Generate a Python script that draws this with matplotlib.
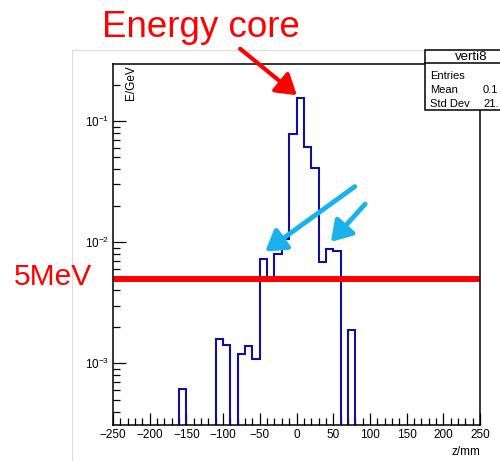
import numpy as np
import matplotlib
matplotlib.use("Agg")
import matplotlib.pyplot as plt
from matplotlib.lines import Line2D
from matplotlib.patches import Rectangle, FancyArrowPatch

plt.rcParams['font.family'] = ['Liberation Sans', 'DejaVu Sans']
plt.rcParams['mathtext.default'] = 'regular'

# Histogram "verti8": energy per 10 mm bin along z
bin_low = [-160, -150, -140, -130, -120, -110, -100, -90, -80, -70, -60, -50,
           -40, -30, -20, -10, 0, 10, 20, 30, 40, 50, 60, 70]
energy = [6.2e-4, 0, 0, 0, 0, 1.6e-3, 1.42e-3, 0, 1.19e-3, 1.39e-3, 1.09e-3, 7.2e-3,
          4.8e-3, 8.0e-3, 1.06e-2, 7.76e-2, 0.156, 6.07e-2, 4.08e-2, 6.8e-3, 8.85e-3, 8.5e-3, 0, 1.88e-3]
bin_width = 10
threshold = 0.005  # 5 MeV in GeV

x_ticks = [-250, -200, -150, -100, -50, 0, 50, 100, 150, 200, 250]
y_ticks = [1e-3, 1e-2, 1e-1]
y_ticklabels = ['$10^{-3}$', '$10^{-2}$', '$10^{-1}$']

W, H = 500, 461
fig = plt.figure(figsize=(W / 100, H / 100), dpi=100)


def fx(x):
    return x / W


def fy(y):
    return 1 - y / H


# canvas border
fig.add_artist(Line2D([fx(72), fx(72)], [fy(50), fy(461)], color='#dcdcdc', lw=0.8))
fig.add_artist(Line2D([fx(72), fx(500)], [fy(50), fy(50)], color='#dcdcdc', lw=0.8))

ax = fig.add_axes([fx(113), fy(425), fx(480) - fx(113), fy(64) - fy(425)])
ax.set_yscale('log')
ax.set_xlim(-250, 250)
ax.set_ylim(3.1e-4, 0.2955)

edges = np.append(np.array(bin_low, dtype=float), bin_low[-1] + bin_width)
vals = np.array(energy)
vals = np.where(vals > 0, vals, 1e-9)
ax.stairs(vals, edges, baseline=1e-9, color='#10109a', lw=1.5, zorder=3)

ax.axhline(threshold, color='#ff0000', lw=4.3, zorder=4)

ax.set_xticks(x_ticks)
ax.set_xticklabels(['\u2212' + str(-t) if t < 0 else str(t) for t in x_ticks])
ax.set_xticks(np.arange(-250, 251, 10), minor=True)
ax.set_yticks(y_ticks)
ax.set_yticklabels(y_ticklabels)
ax.tick_params(which='both', direction='in', top=False, right=False, labelsize=8.5, width=0.9)
ax.tick_params(which='major', length=9, pad=3)
ax.tick_params(which='minor', length=5)
ax.tick_params(axis='y', which='minor', labelleft=False)
for s in ax.spines.values():
    s.set_linewidth(1.1)
    s.set_zorder(5)

fig.text(fx(480), fy(452), 'z/mm', ha='right', va='center', fontsize=8.5)
fig.text(fx(131), fy(65), 'E/GeV', ha='center', va='top', rotation=90, fontsize=8.5)

# stats box
box_l, box_t, box_sep, box_b = 425, 50, 63, 110
fig.add_artist(Rectangle((fx(box_l), fy(box_b)), fx(520) - fx(box_l), fy(box_t) - fy(box_b),
                         facecolor='white', edgecolor='black', lw=1.1, zorder=10))
fig.add_artist(Line2D([fx(box_l), fx(500)], [fy(box_sep), fy(box_sep)], color='black', lw=1.1, zorder=11))
fig.text(fx(471), fy(57), 'verti8', ha='center', va='center', fontsize=9.5, zorder=12)
for label, val, y in [('Entries', '', 76), ('Mean', '0.1', 90), ('Std Dev', '21.', 104)]:
    fig.text(fx(430), fy(y), label, ha='left', va='center', fontsize=8, zorder=12)
    fig.text(fx(483), fy(y), val, ha='left', va='center', fontsize=8, zorder=12)

# annotations
fig.text(fx(102), fy(37), 'Energy core', ha='left', va='baseline', fontsize=26.5, color='#ff0000')
fig.text(fx(14), fy(277), '5MeV', ha='left', va='center', fontsize=21.5, color='#ff0000')


def arrow(x0, y0, x1, y1, color, lw):
    fig.add_artist(FancyArrowPatch((fx(x0), fy(y0)), (fx(x1), fy(y1)), transform=fig.transFigure,
                                   arrowstyle='-|>,head_length=0.6,head_width=0.38', mutation_scale=20,
                                   color=color, lw=lw, zorder=8))


arrow(238, 47, 299, 97, '#ff0000', 3)
arrow(357, 185, 263, 253, '#1ab2ec', 3.5)
arrow(367, 202, 329, 244, '#1ab2ec', 3.5)

fig.savefig('out.png', dpi=100)
